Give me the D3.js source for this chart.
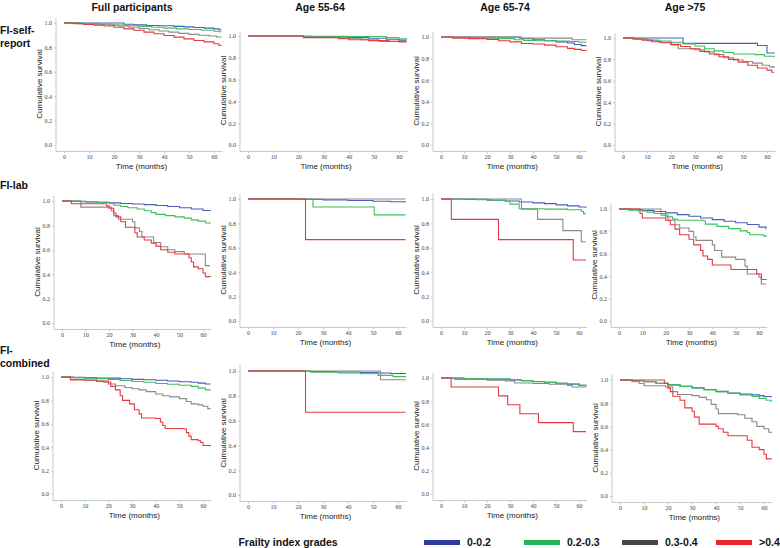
<!DOCTYPE html>
<html>
<head>
<meta charset="utf-8">
<script src="https://cdn.jsdelivr.net/npm/d3@7"></script>
<style>
  body { margin: 0; background: #fff; }
  svg { display: block; }
  .tick text { font-family: "Liberation Serif", serif; font-size: 6px; fill: #444; }
  .tick line { stroke: #c8c8c8; }
  .lab { font-family: "Liberation Sans", Arial, sans-serif; font-size: 8px; fill: #222; }
  .ttl { font-family: "Liberation Sans", Arial, sans-serif; font-size: 10.5px; font-weight: bold; fill: #111; }
</style>
</head>
<body>
<div id="chart"></div>
<script>

var grades = ["0-0.2", "0.2-0.3", "0.3-0.4", ">0.4"];
var columnTitles = ["Full participants", "Age 55-64", "Age 65-74", "Age >75"];
var rowTitles = [["FI-self-", "report"], ["FI-lab"], ["FI-", "combined"]];
var xTicks = [0, 10, 20, 30, 40, 50, 60];
var yTicks = [0, 0.2, 0.4, 0.6, 0.8, 1.0];

// step curves [months, survival], one list per grade (0-0.2, 0.2-0.3, 0.3-0.4, >0.4)
var selfFull = [
  [[0,1],[24,0.99],[28,0.985],[33,0.98],[38,0.977],[44,0.972],[48,0.968],[52,0.963],[56,0.958],[60,0.952],[62,0.945],[63,0.945]],
  [[0,1],[8,0.995],[14,0.99],[20,0.984],[25,0.978],[30,0.972],[35,0.965],[40,0.958],[45,0.952],[50,0.947],[55,0.94],[60,0.932],[62,0.928],[63,0.928]],
  [[0,1],[6,0.995],[12,0.99],[18,0.982],[22,0.975],[26,0.965],[30,0.955],[34,0.945],[38,0.935],[42,0.925],[46,0.915],[50,0.907],[54,0.9],[58,0.893],[61,0.885],[63,0.885]],
  [[0,1],[4,0.995],[8,0.988],[12,0.982],[16,0.975],[20,0.965],[24,0.952],[28,0.94],[32,0.925],[36,0.912],[40,0.898],[44,0.884],[48,0.87],[52,0.857],[56,0.845],[60,0.83],[62,0.815],[63,0.815]]
];
var selfAge1 = [
  [[0,1],[22,0.995],[30,0.99],[40,0.985],[48,0.98],[55,0.97],[60,0.962],[63,0.96]],
  [[0,1],[25,0.997],[40,0.995],[55,0.985],[60,0.975],[63,0.97]],
  [[0,1],[22,0.99],[36,0.98],[45,0.965],[52,0.95],[63,0.95]],
  [[0,1],[22,0.985],[36,0.975],[40,0.965],[48,0.958],[56,0.952],[60,0.945],[63,0.945]]
];
var selfAge2 = [
  [[0,1],[35,0.985],[40,0.975],[45,0.965],[50,0.955],[55,0.945],[58,0.93],[61,0.92],[63,0.915]],
  [[0,1],[8,0.995],[15,0.99],[25,0.985],[32,0.975],[36,0.968],[42,0.965],[50,0.962],[56,0.958],[60,0.952],[63,0.95]],
  [[0,1],[34,0.99],[57,0.975],[63,0.97]],
  [[0,1],[5,0.99],[12,0.985],[20,0.978],[25,0.965],[30,0.955],[35,0.94],[40,0.935],[45,0.925],[50,0.91],[55,0.895],[58,0.885],[61,0.875],[63,0.87]]
];
var selfAge3 = [
  [[0,1],[25,0.95],[56,0.93],[60,0.86],[63,0.855]],
  [[0,1],[5,0.99],[10,0.982],[15,0.972],[20,0.96],[25,0.945],[30,0.925],[34,0.9],[38,0.88],[42,0.865],[46,0.85],[55,0.845],[59,0.83],[63,0.82]],
  [[0,1],[5,0.99],[10,0.975],[15,0.96],[20,0.935],[23,0.9],[30,0.89],[34,0.87],[38,0.845],[42,0.815],[46,0.795],[50,0.78],[54,0.765],[58,0.745],[61,0.73],[63,0.72]],
  [[0,1],[4,0.99],[8,0.98],[12,0.965],[16,0.955],[20,0.94],[24,0.92],[28,0.9],[32,0.875],[36,0.85],[40,0.825],[44,0.8],[48,0.775],[52,0.745],[56,0.72],[60,0.7],[62,0.68],[63,0.68]]
];
var labFull = [
  [[0,1],[5,0.997],[10,0.993],[15,0.99],[20,0.985],[25,0.98],[30,0.975],[35,0.97],[40,0.963],[45,0.955],[50,0.945],[55,0.935],[60,0.922],[63,0.915]],
  [[0,1],[8,0.995],[15,0.99],[20,0.98],[22,0.965],[25,0.955],[28,0.945],[32,0.935],[35,0.92],[38,0.905],[40,0.89],[44,0.88],[48,0.87],[52,0.86],[55,0.845],[58,0.835],[61,0.82],[63,0.81]],
  [[0,1],[8,0.95],[21,0.92],[22,0.88],[24,0.85],[30,0.83],[31,0.78],[33,0.75],[34,0.705],[39,0.66],[42,0.625],[45,0.6],[48,0.585],[52,0.565],[60,0.565],[61,0.47],[63,0.47]],
  [[0,1],[4,0.978],[19,0.96],[20,0.94],[22,0.9],[23,0.87],[25,0.83],[27,0.785],[31,0.74],[32,0.705],[35,0.68],[38,0.655],[40,0.63],[42,0.6],[45,0.58],[48,0.565],[54,0.535],[55,0.5],[56,0.46],[58,0.445],[60,0.41],[61,0.38],[63,0.375]]
];
var labAge1 = [
  [[0,1],[20,0.997],[30,0.993],[40,0.988],[50,0.982],[57,0.978],[63,0.975]],
  [[0,1],[26,0.935],[50.5,0.87],[63,0.87]],
  [[0,1],[63,1]],
  [[0,1],[23,0.667],[63,0.667]]
];
var labAge2 = [
  [[0,1],[10,0.997],[20,0.99],[28,0.984],[34,0.976],[40,0.968],[45,0.962],[50,0.952],[55,0.944],[60,0.935],[63,0.928]],
  [[0,1],[15,0.995],[22,0.99],[28,0.982],[30,0.958],[34,0.92],[45,0.917],[55,0.912],[61,0.9],[62,0.88],[63,0.88]],
  [[0,1],[35,0.917],[42,0.833],[53,0.741],[61,0.65],[63,0.65]],
  [[0,1],[4.5,0.833],[25,0.667],[57.5,0.5],[63,0.5]]
];
var labAge3 = [
  [[0,1],[5,0.995],[10,0.988],[15,0.978],[20,0.965],[25,0.95],[30,0.935],[35,0.92],[40,0.905],[45,0.89],[50,0.877],[55,0.862],[60,0.838],[63,0.82]],
  [[0,1],[4,0.99],[8,0.982],[12,0.972],[15,0.96],[18,0.945],[21,0.93],[23,0.91],[25,0.9],[36,0.895],[37,0.865],[42,0.845],[47,0.825],[52,0.805],[55,0.79],[56,0.77],[62,0.76],[63,0.75]],
  [[0,1],[18,0.96],[20,0.93],[21,0.9],[24,0.86],[26,0.83],[30,0.8],[32,0.75],[33,0.72],[40,0.68],[41,0.63],[44,0.57],[50,0.55],[54,0.49],[55,0.42],[60,0.39],[61,0.33],[63,0.33]],
  [[0,1],[9,0.96],[10,0.92],[20,0.9],[22,0.86],[24,0.82],[26,0.77],[30,0.73],[32,0.68],[35,0.63],[36,0.58],[38,0.55],[40,0.5],[48,0.46],[59,0.42],[61,0.37],[63,0.365]]
];
var combFull = [
  [[0,1],[5,0.998],[10,0.995],[15,0.992],[20,0.99],[25,0.985],[30,0.98],[35,0.976],[40,0.972],[45,0.966],[50,0.96],[55,0.955],[58,0.948],[61,0.94],[63,0.935]],
  [[0,1],[5,0.995],[10,0.99],[15,0.986],[20,0.98],[25,0.97],[30,0.962],[35,0.955],[40,0.945],[45,0.938],[50,0.93],[55,0.92],[58,0.905],[61,0.89],[63,0.885]],
  [[0,1],[4,0.98],[10,0.972],[15,0.965],[18,0.955],[20,0.94],[23,0.925],[27,0.91],[30,0.9],[33,0.89],[36,0.875],[40,0.855],[43,0.84],[46,0.83],[50,0.815],[53,0.79],[55,0.77],[58,0.762],[60,0.75],[62,0.73],[63,0.725]],
  [[0,1],[4,0.975],[15,0.965],[20,0.955],[21,0.92],[23,0.89],[25,0.84],[26,0.8],[29,0.77],[31,0.72],[33,0.685],[34,0.65],[40,0.645],[42,0.615],[43,0.585],[44,0.56],[52,0.555],[53,0.525],[54,0.495],[55,0.465],[58,0.455],[59,0.44],[60,0.415],[63,0.405]]
];
var combAge1 = [
  [[0,1],[25,0.996],[35,0.992],[45,0.988],[52,0.984],[57,0.98],[63,0.975]],
  [[0,1],[25,0.99],[36,0.984],[45,0.978],[52,0.965],[58,0.955],[63,0.95]],
  [[0,1],[53,0.93],[63,0.93]],
  [[0,1],[23,0.667],[63,0.667]]
];
var combAge2 = [
  [[0,1],[10,0.996],[20,0.99],[30,0.983],[35,0.976],[40,0.97],[45,0.962],[50,0.955],[55,0.946],[60,0.936],[63,0.93]],
  [[0,1],[10,0.996],[20,0.992],[30,0.986],[35,0.977],[40,0.968],[45,0.962],[50,0.955],[55,0.95],[60,0.938],[63,0.932]],
  [[0,1],[6,0.988],[20,0.982],[28,0.975],[32,0.957],[40,0.952],[47,0.946],[55,0.935],[57,0.922],[63,0.92]],
  [[0,1],[4.4,0.923],[25,0.846],[29,0.769],[34.3,0.692],[42.4,0.615],[57.5,0.538],[63,0.538]]
];
var combAge3 = [
  [[0,1],[5,0.993],[10,0.985],[15,0.972],[20,0.958],[25,0.945],[30,0.932],[35,0.918],[40,0.902],[45,0.888],[50,0.878],[55,0.872],[58,0.865],[60,0.858],[63,0.85]],
  [[0,1],[5,0.993],[10,0.985],[15,0.972],[20,0.958],[25,0.945],[30,0.932],[35,0.915],[40,0.898],[45,0.885],[50,0.872],[55,0.858],[58,0.842],[61,0.825],[63,0.81]],
  [[0,1],[5,0.985],[8,0.97],[10,0.95],[19,0.94],[22,0.9],[24,0.875],[30,0.865],[33,0.85],[36,0.83],[38,0.79],[40,0.75],[41,0.71],[49,0.7],[52,0.67],[55,0.64],[57,0.6],[60,0.58],[62,0.55],[63,0.54]],
  [[0,1],[18.5,0.97],[20,0.93],[21,0.9],[22,0.86],[25,0.825],[27,0.76],[30,0.73],[31,0.68],[33,0.62],[40,0.6],[41,0.58],[43,0.55],[45,0.52],[52,0.52],[53,0.48],[55,0.42],[58,0.4],[60,0.36],[61,0.32],[63,0.315]]
];

var panelData = [selfFull, selfAge1, selfAge2, selfAge3,
                 labFull, labAge1, labAge2, labAge3,
                 combFull, combAge1, combAge2, combAge3];

// pixel anchors per panel: x of month 0, x of month 60, y of 1.0, y of 0.0
var layout = [
  [64,214,23,145],[248,399,36,145],[441,579,37,145],[623,767,38,145],
  [62,203,201,323],[248,398,199,321],[441,579,199,321],[619,759,209,321],
  [61,203,377,494],[248,398,371,495],[441,579,378,494],[620,764,380,496]
];

var lineColors = ["#4a5cbb", "#3cc05a", "#8a8a8a", "#e8393e"];
var legendColors = ["#2f3c9e", "#26b556", "#454545", "#e6262c"];

var svg = d3.select("#chart").append("svg")
  .attr("width", 780)
  .attr("height", 548);

panelData.forEach(function(series, i) {
  var L = layout[i];
  var x = d3.scaleLinear().domain([0, 60]).range([L[0], L[1]]);
  var y = d3.scaleLinear().domain([0, 1]).range([L[3], L[2]]);
  var axX = L[0] - 8;
  var axY = L[3] + 6.5;
  var g = svg.append("g");

  // axis frame lines
  g.append("line").attr("x1", axX).attr("x2", axX)
    .attr("y1", y(1.045)).attr("y2", axY)
    .attr("stroke", "#c8c8c8");
  g.append("line").attr("x1", axX).attr("x2", x(63.5))
    .attr("y1", axY).attr("y2", axY)
    .attr("stroke", "#c8c8c8");

  var ya = g.append("g")
    .attr("transform", "translate(" + axX + ",0)")
    .call(d3.axisLeft(y).tickValues(yTicks).tickFormat(d3.format(".1f")).tickSize(2).tickPadding(2));
  ya.select(".domain").remove();

  var xa = g.append("g")
    .attr("transform", "translate(0," + axY + ")")
    .call(d3.axisBottom(x).tickValues(xTicks).tickSize(2).tickPadding(1.5));
  xa.select(".domain").remove();

  g.append("text").attr("class", "lab")
    .attr("text-anchor", "middle")
    .attr("transform", "translate(" + (axX - 14) + "," + y(0.5) + ") rotate(-90)")
    .text("Cumulative survival");

  g.append("text").attr("class", "lab")
    .attr("text-anchor", "middle")
    .attr("x", x(31)).attr("y", L[3] + 24)
    .text("Time (months)");

  var line = d3.line()
    .x(function(d) { return x(d[0]); })
    .y(function(d) { return y(d[1]); })
    .curve(d3.curveStepAfter);

  series.forEach(function(s, k) {
    g.append("path")
      .attr("d", line(s))
      .attr("fill", "none")
      .attr("stroke", lineColors[k])
      .attr("stroke-width", 1.1);
  });
});

// column titles
var titleX = [132, 320, 505, 685];
columnTitles.forEach(function(t, i) {
  svg.append("text").attr("class", "ttl")
    .attr("x", titleX[i]).attr("y", 11)
    .attr("text-anchor", "middle")
    .text(t);
});

// row titles
var rowY = [34, 189, 354];
rowTitles.forEach(function(lines, i) {
  lines.forEach(function(t, j) {
    svg.append("text").attr("class", "ttl")
      .attr("x", 0).attr("y", rowY[i] + j * 13)
      .text(t);
  });
});

// legend
svg.append("text").attr("class", "ttl")
  .attr("x", 288).attr("y", 546)
  .attr("text-anchor", "middle")
  .text("Frailty index grades");

var legX = [424, 524, 622, 716];
grades.forEach(function(gr, k) {
  svg.append("rect")
    .attr("x", legX[k]).attr("y", 540)
    .attr("width", 36).attr("height", 5)
    .attr("fill", legendColors[k]);
  svg.append("text").attr("class", "ttl")
    .attr("x", legX[k] + 43).attr("y", 546)
    .text(gr);
});

</script>
</body>
</html>
